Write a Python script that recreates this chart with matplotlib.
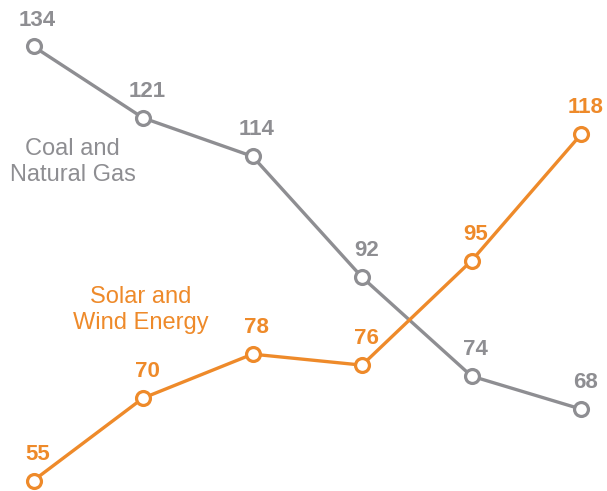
import matplotlib.pyplot as plt

plt.rcParams['font.family'] = ['Liberation Sans', 'DejaVu Sans']

# values
positions = [0, 1, 2, 3, 4, 5]
coal_gas = [134, 121, 114, 92, 74, 68]
solar_wind = [55, 70, 78, 76, 95, 118]

gray = '#8e8e92'
orange = '#ee8a2a'

fig = plt.figure(figsize=(6.07, 4.91), dpi=100)
ax = fig.add_axes([0, 0, 1, 1])
ax.set_xlim(-0.306, 5.237)
ax.set_ylim(53.09, 142.46)
ax.axis('off')


def draw_series(values, color):
    ax.plot(positions, values, color=color, linewidth=2.4, marker='o',
            markersize=10, markerfacecolor='white', markeredgecolor=color,
            markeredgewidth=2.3, zorder=3)
    for x, v in zip(positions, values):
        ax.annotate(str(v), (x, v), xytext=(3, 19), textcoords='offset points',
                    ha='center', va='center', fontsize=16, fontweight='bold',
                    color=color)


draw_series(coal_gas, gray)
draw_series(solar_wind, orange)

ax.text(0.356, 113.0, 'Coal and\nNatural Gas', ha='center', va='center',
        fontsize=17, color=gray, linespacing=1.2)
ax.text(0.983, 86.0, 'Solar and\nWind Energy', ha='center', va='center',
        fontsize=17, color=orange, linespacing=1.2)

fig.savefig('out.png', dpi=100)
